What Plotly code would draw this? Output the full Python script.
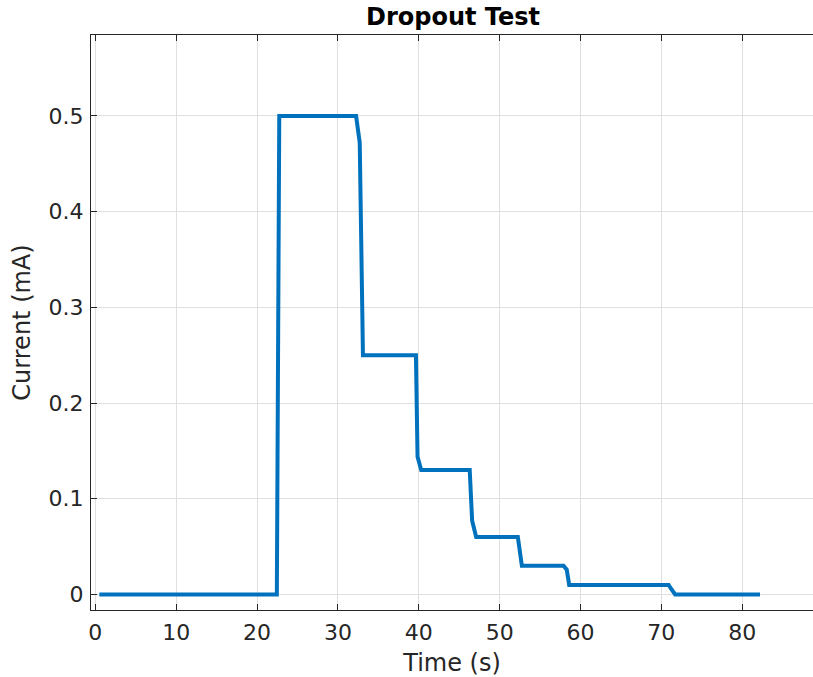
import plotly.graph_objects as go

# Data
time_s = [0.5, 22.3, 22.45, 22.75, 32.25, 32.7, 33.1, 39.65, 39.85, 40.3, 46.3, 46.6, 47.1,
          52.25, 52.75, 57.9, 58.3, 58.6, 70.9, 71.2, 71.7, 82.2]
current_mA = [0.0, 0.0, 0.0, 0.5, 0.5, 0.472, 0.25, 0.25, 0.144, 0.13, 0.13, 0.077, 0.06,
              0.06, 0.03, 0.03, 0.026, 0.01, 0.01, 0.006, 0.0, 0.0]

x_ticks = [0, 10, 20, 30, 40, 50, 60, 70, 80]
y_ticks = [0, 0.1, 0.2, 0.3, 0.4, 0.5]
y_tick_text = ["0", "0.1", "0.2", "0.3", "0.4", "0.5"]

TEXT = "#262626"
AXIS = "#262626"
GRID = "#dfdfdf"
FONT = "DejaVu Sans"

fig = go.Figure()
fig.add_trace(go.Scatter(x=time_s, y=current_mA, mode="lines",
                         line=dict(color="#0072BD", width=4)))

fig.update_layout(
    width=813, height=677,
    margin=dict(l=91, r=0, t=35, b=67),
    paper_bgcolor="white", plot_bgcolor="white",
    showlegend=False,
    font=dict(family=FONT, color=TEXT, size=22),
    title=dict(text="<b>Dropout Test</b>", x=453 / 813, xanchor="center",
               y=1 - 17 / 677, yanchor="middle",
               font=dict(family=FONT, size=24, color="black")),
)
fig.update_xaxes(
    range=[-0.53, 88.75], tickvals=x_ticks, ticktext=[str(v) for v in x_ticks],
    showgrid=True, gridcolor=GRID, gridwidth=1, zeroline=False,
    showline=True, linecolor=AXIS, linewidth=1, mirror="ticks",
    ticks="inside", ticklen=6, tickcolor=AXIS, tickwidth=1,
    ticklabelstandoff=3,
    tickfont=dict(size=22, color=TEXT),
    title=dict(text="Time (s)", font=dict(size=24, color=TEXT), standoff=9),
)
fig.update_yaxes(
    range=[-0.0162, 0.5846], tickvals=y_ticks, ticktext=y_tick_text,
    showgrid=True, gridcolor=GRID, gridwidth=1, zeroline=False,
    showline=True, linecolor=AXIS, linewidth=1, mirror=False,
    ticks="inside", ticklen=6, tickcolor=AXIS, tickwidth=1,
    ticklabelstandoff=2,
    tickfont=dict(size=22, color=TEXT),
    title=dict(text="Current (mA)", font=dict(size=24, color=TEXT), standoff=11),
)

fig.write_html("out.html")
